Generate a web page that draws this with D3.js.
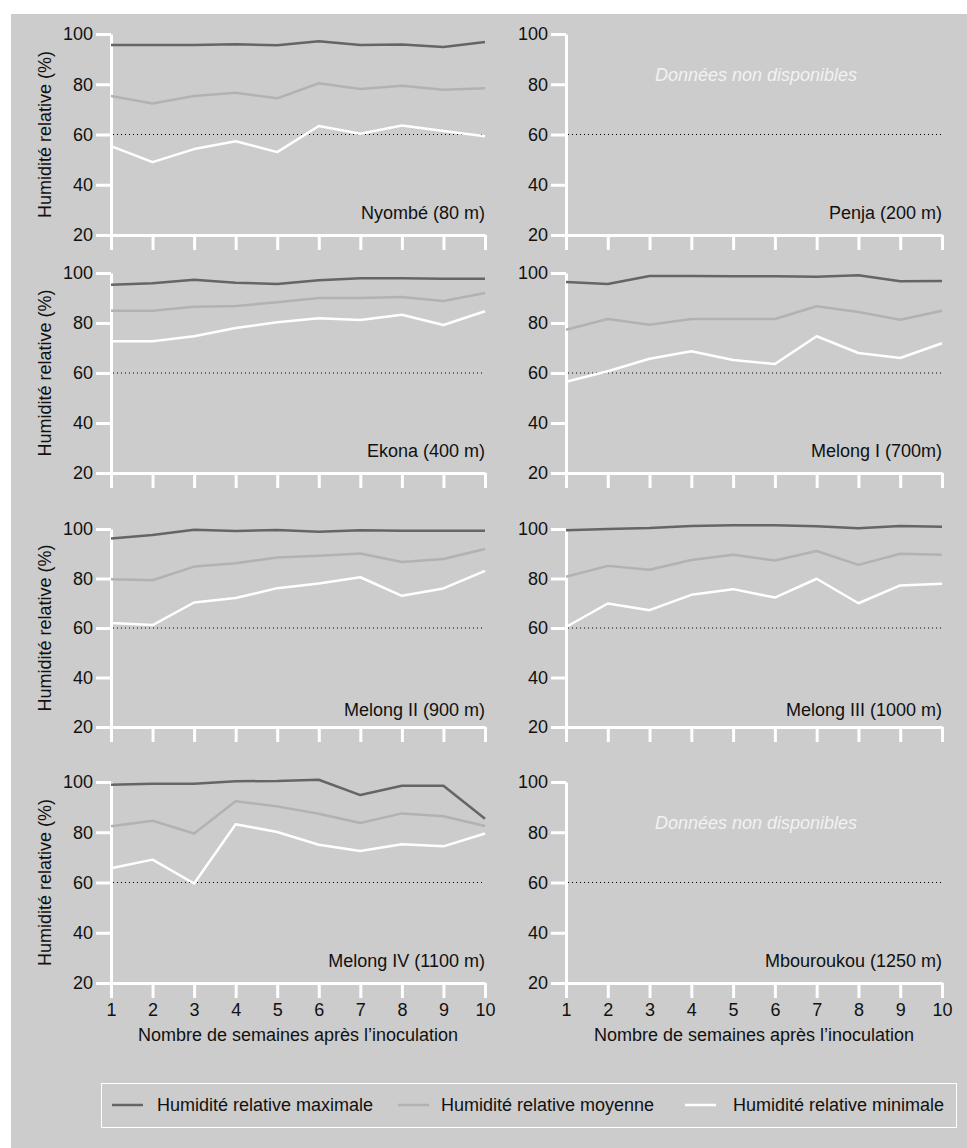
<!DOCTYPE html>
<html>
<head>
<meta charset="utf-8">
<script src="https://cdn.jsdelivr.net/npm/d3@7"></script>
<style>
  body { margin: 0; background: #fff; }
  svg { display: block; font-family: "Liberation Sans", Arial, sans-serif; }
</style>
</head>
<body>
<div id="mainDiv"></div>
<script>
'use strict';

// données
var weeks = [1, 2, 3, 4, 5, 6, 7, 8, 9, 10];
var yTicks = [20, 40, 60, 80, 100];
var sites = ['Nyombé (80 m)', 'Penja (200 m)', 'Ekona (400 m)', 'Melong I (700m)',
             'Melong II (900 m)', 'Melong III (1000 m)', 'Melong IV (1100 m)', 'Mbouroukou (1250 m)'];
var seriesNames = ['Humidité relative maximale', 'Humidité relative moyenne', 'Humidité relative minimale'];

// humidité relative maximale (null = données non disponibles)
var hrMax = [
  [95.6, 95.6, 95.6, 95.9, 95.5, 97.1, 95.6, 95.8, 94.8, 96.8],
  null,
  [95.3, 95.9, 97.3, 96.1, 95.6, 97.1, 97.9, 97.9, 97.7, 97.7],
  [96.4, 95.6, 98.8, 98.8, 98.7, 98.7, 98.5, 99.1, 96.7, 96.8],
  [96.2, 97.6, 99.7, 99.2, 99.6, 98.9, 99.5, 99.3, 99.3, 99.3],
  [99.5, 100.0, 100.4, 101.2, 101.5, 101.5, 101.1, 100.3, 101.2, 100.9],
  [98.9, 99.3, 99.3, 100.3, 100.4, 100.9, 94.8, 98.5, 98.5, 85.4],
  null
];
// humidité relative moyenne
var hrMoy = [
  [75.3, 72.3, 75.3, 76.6, 74.4, 80.4, 78.1, 79.4, 77.8, 78.4],
  null,
  [84.9, 84.9, 86.5, 86.8, 88.3, 90.0, 90.0, 90.4, 88.8, 92.0],
  [77.3, 81.6, 79.3, 81.6, 81.6, 81.6, 86.7, 84.4, 81.3, 84.9],
  [79.7, 79.3, 84.8, 86.2, 88.5, 89.2, 90.1, 86.7, 87.9, 91.9],
  [80.7, 85.1, 83.5, 87.5, 89.6, 87.3, 91.1, 85.5, 90.0, 89.6],
  [82.4, 84.6, 79.5, 92.3, 90.3, 87.4, 83.7, 87.5, 86.4, 82.5],
  null
];
// humidité relative minimale
var hrMin = [
  [55.4, 49.0, 54.2, 57.3, 53.0, 63.4, 60.3, 63.6, 61.4, 59.3],
  null,
  [72.7, 72.7, 74.7, 78.0, 80.3, 81.9, 81.2, 83.3, 79.2, 84.7],
  [56.5, 60.7, 65.7, 68.7, 65.2, 63.6, 74.7, 68.0, 66.0, 71.9],
  [62.0, 61.2, 70.3, 72.1, 76.1, 78.0, 80.5, 73.0, 76.0, 83.1],
  [60.4, 69.9, 67.2, 73.4, 75.7, 72.3, 79.9, 70.0, 77.2, 77.9],
  [65.7, 69.1, 59.6, 83.2, 80.1, 75.0, 72.5, 75.2, 74.4, 79.5],
  null
];
var seuil = 60;

// mise en page
var W = 967, H = 1148;
var colX = [[111, 485], [566, 942]];           // x de la semaine 1 et 10
var rowY = [[235, 34], [473, 273], [727, 529], [983, 782]]; // y de 20 et 100
var colors = ['#656565', '#b2b2b2', '#ffffff'];
var fontSize = 18;

var chart = {};

chart.appendSvg = function(div)
{
    var svg = d3.select(div).append('svg')
        .attr('width', W)
        .attr('height', H);

    svg.append('rect')
        .attr('x', 11).attr('y', 14)
        .attr('width', W - 11).attr('height', H - 14)
        .attr('fill', '#cccccc');

    return svg;
}

chart.drawPanel = function(svg, i)
{
    var col = i % 2, row = Math.floor(i / 2);
    var xScale = d3.scaleLinear().domain([1, 10]).range(colX[col]);
    var yScale = d3.scaleLinear().domain([20, 100]).range(rowY[row]);
    var g = svg.append('g').attr('class', 'panel');

    // axe y
    var yAxis = g.append('g')
        .attr('transform', 'translate(' + xScale(1) + ',0)')
        .call(d3.axisLeft(yScale).tickValues(yTicks).tickSize(15).tickSizeOuter(0).tickPadding(3));

    // axe x
    var xAxis = g.append('g')
        .attr('transform', 'translate(0,' + yScale(20) + ')')
        .call(d3.axisBottom(xScale).tickValues(weeks).tickSize(15).tickSizeOuter(0).tickPadding(5));

    [yAxis, xAxis].forEach(function(ax) {
        ax.select('.domain').attr('stroke', '#fff').attr('stroke-width', 3);
        ax.selectAll('.tick line').attr('stroke', '#fff').attr('stroke-width', 3);
        ax.selectAll('.tick text').attr('fill', '#111').style('font-size', fontSize + 'px');
    });
    if (row < 3) xAxis.selectAll('.tick text').remove();

    // ligne pointillée 60 %
    g.append('line')
        .attr('x1', xScale(1) + 2).attr('x2', xScale(10))
        .attr('y1', yScale(seuil)).attr('y2', yScale(seuil))
        .attr('stroke', '#000').attr('stroke-width', 1)
        .attr('stroke-dasharray', '1,3');

    // séries
    var series = [hrMax[i], hrMoy[i], hrMin[i]];
    var line = d3.line()
        .x(function(d, k) { return xScale(weeks[k]); })
        .y(function(d) { return yScale(d); });

    if (series[0])
    {
        series.forEach(function(s, k) {
            g.append('path')
                .datum(s)
                .attr('fill', 'none')
                .attr('stroke', colors[k])
                .attr('stroke-width', 2.5)
                .attr('stroke-linejoin', 'round')
                .attr('d', line);
        });
    }
    else
    {
        g.append('text')
            .attr('x', (xScale(1) + xScale(10)) / 2 + 2)
            .attr('y', yScale(100) + 47)
            .attr('text-anchor', 'middle')
            .attr('fill', '#f2f2f2')
            .style('font-style', 'italic')
            .style('font-size', fontSize + 'px')
            .text('Données non disponibles');
    }

    // nom du site
    g.append('text')
        .attr('x', xScale(10))
        .attr('y', yScale(20) - (row == 2 ? 11 : 16))
        .attr('text-anchor', 'end')
        .attr('fill', '#111')
        .style('font-size', fontSize + 'px')
        .text(sites[i]);

    // titres des axes
    if (col == 0)
    {
        g.append('text')
            .attr('transform', 'translate(51,' + (yScale(60)) + ') rotate(-90)')
            .attr('text-anchor', 'middle')
            .attr('fill', '#111')
            .style('font-size', fontSize + 'px')
            .text('Humidité relative (%)');
    }
    if (row == 3)
    {
        g.append('text')
            .attr('x', (xScale(1) + xScale(10)) / 2)
            .attr('y', yScale(20) + 58)
            .attr('text-anchor', 'middle')
            .attr('fill', '#111')
            .style('font-size', fontSize + 'px')
            .text('Nombre de semaines après l\u2019inoculation');
    }
}

chart.addLegend = function(svg)
{
    var lg = svg.append('g');
    lg.append('rect')
        .attr('x', 101.5).attr('y', 1083.5)
        .attr('width', 855).attr('height', 44)
        .attr('fill', 'none').attr('stroke', '#fff').attr('stroke-width', 1);

    var lineX = [112, 398, 685];
    var textX = [157, 441, 733];
    seriesNames.forEach(function(name, k) {
        lg.append('line')
            .attr('x1', lineX[k]).attr('x2', lineX[k] + 31)
            .attr('y1', 1105).attr('y2', 1105)
            .attr('stroke', colors[k]).attr('stroke-width', 2.5);
        lg.append('text')
            .attr('x', textX[k]).attr('y', 1111)
            .attr('fill', '#111')
            .style('font-size', fontSize + 'px')
            .text(name);
    });
}

chart.run = function()
{
    var svg = chart.appendSvg('#mainDiv');
    for (var i = 0; i < sites.length; i++) chart.drawPanel(svg, i);
    chart.addLegend(svg);
}

window.onload = chart.run;
</script>
</body>
</html>
